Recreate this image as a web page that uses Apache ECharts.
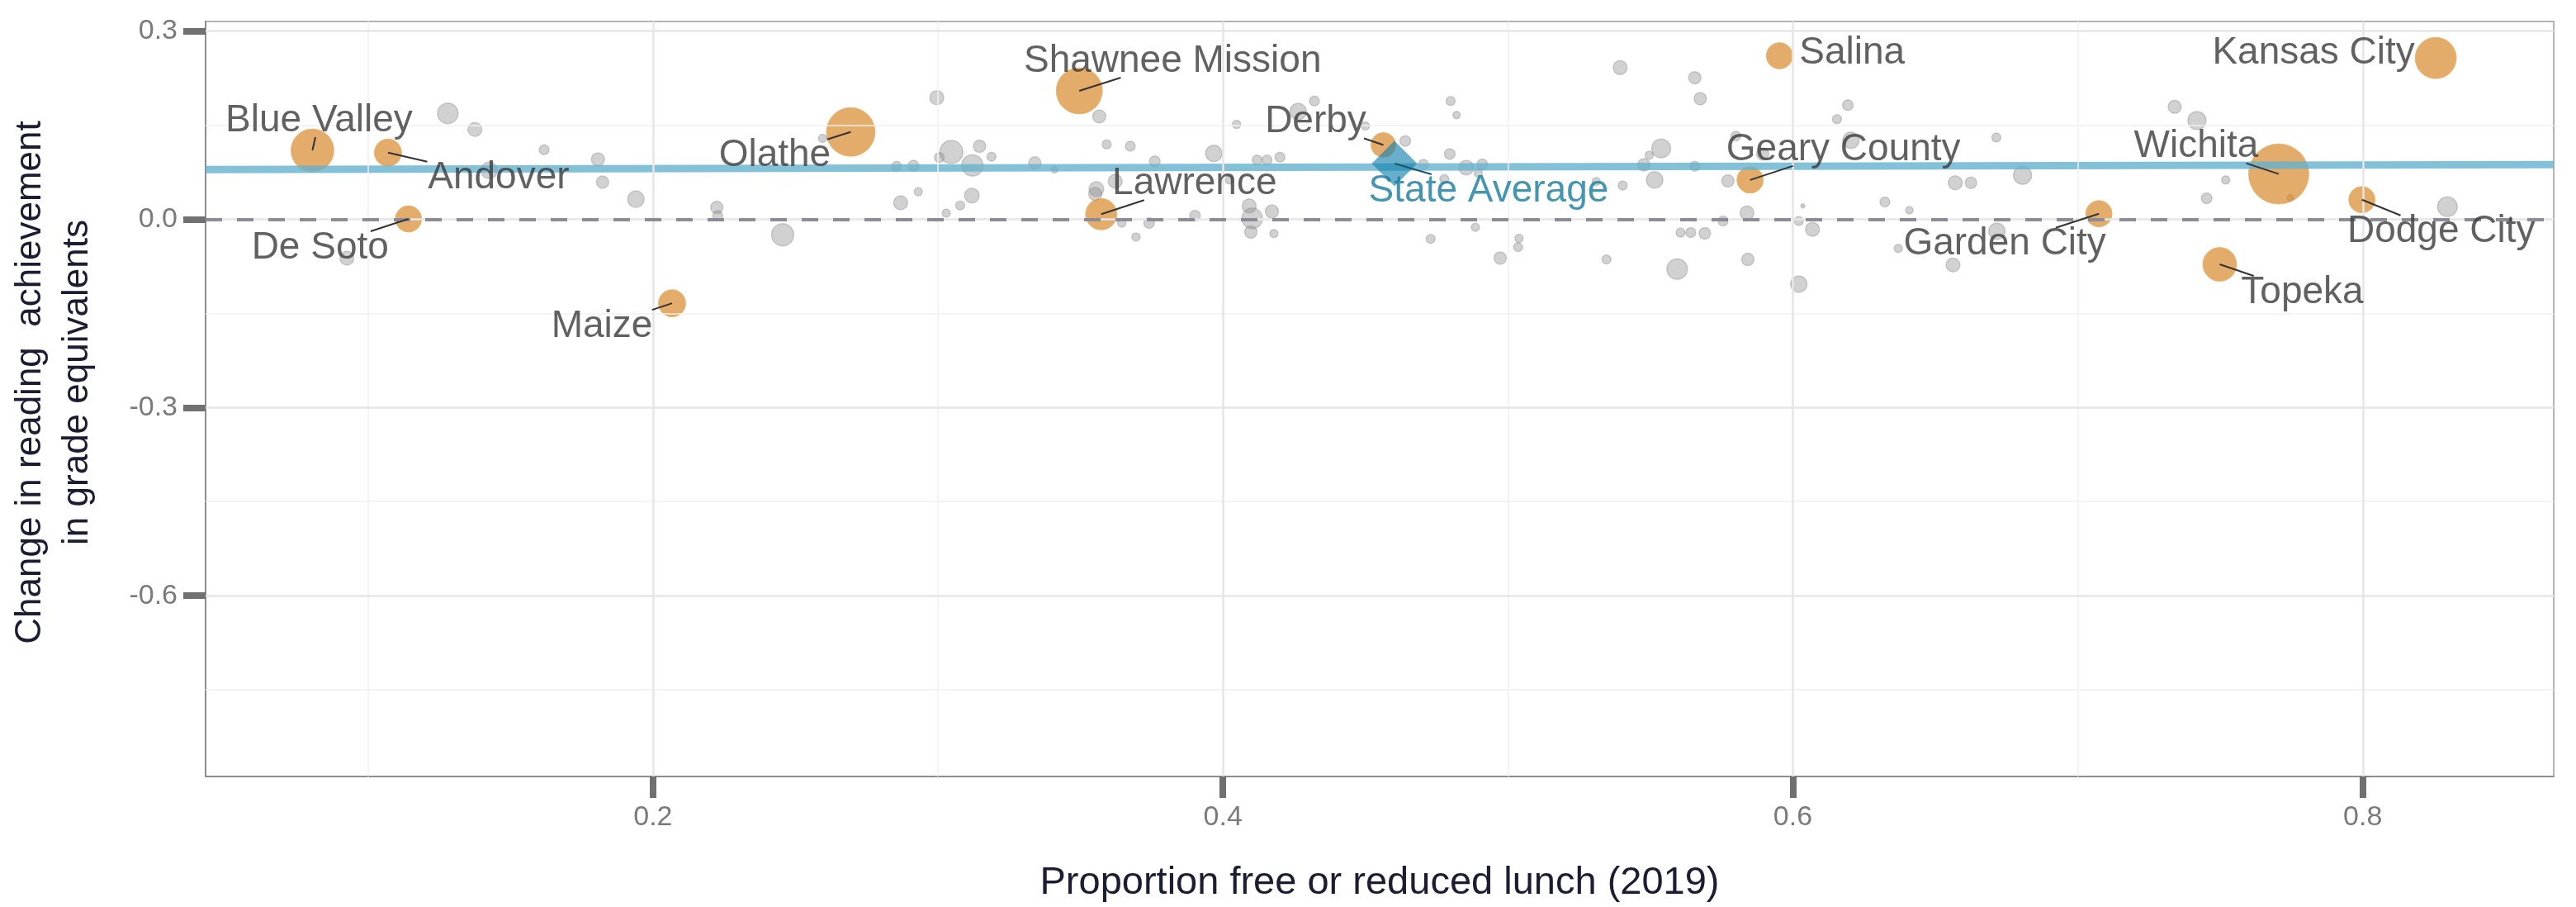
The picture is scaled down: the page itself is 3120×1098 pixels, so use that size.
<!DOCTYPE html>
<html>
<head>
<meta charset="utf-8">
<title>Reading change vs free lunch</title>
<script src="https://cdn.jsdelivr.net/npm/echarts@6/dist/echarts.min.js"></script>
<style>
  html, body { margin: 0; padding: 0; background: #fff; }
  #chart { width: 3120px; height: 1098px; }
</style>
</head>
<body>
<div id="chart"></div>
<script>
// unlabelled districts: proportion FRL, change in GE, bubble size
var gX = [0.128, 0.1375, 0.1618, 0.1807, 0.1823, 0.194, 0.1425, 0.0926, 0.2224, 0.2227, 0.2455, 0.2595,
    0.2996, 0.2855, 0.2914, 0.2869, 0.2931, 0.3005, 0.3047, 0.3146, 0.3188, 0.3121, 0.3119, 0.3078, 0.3029,
    0.334, 0.3409, 0.3566, 0.3592, 0.3675, 0.3761, 0.3556, 0.3552, 0.3622, 0.3645, 0.3741, 0.3695,
    0.4048, 0.3968, 0.412, 0.4155, 0.42, 0.4264, 0.4321, 0.45, 0.464, 0.4799, 0.482, 0.4796, 0.4704, 0.4854,
    0.491, 0.4896, 0.4777, 0.4023, 0.4092, 0.4103, 0.4098, 0.4172, 0.4179, 0.3902, 0.4729, 0.4886, 0.5039,
    0.5036, 0.4973, 0.5346, 0.5394, 0.5496, 0.5538, 0.5477, 0.5515, 0.5403, 0.5594, 0.531,
    0.5656, 0.5675, 0.5656, 0.5772, 0.5606, 0.5642, 0.5691, 0.5755, 0.58, 0.5894, 0.5839, 0.5842, 0.6021,
    0.6021, 0.6035, 0.6069, 0.6193, 0.6155, 0.6204, 0.6323, 0.6409, 0.637, 0.6562, 0.657, 0.6625, 0.6714,
    0.6806, 0.6716, 0.734, 0.7418, 0.7519, 0.7452, 0.7746, 0.8297];
var gY = [0.1686, 0.143, 0.1105, 0.0952, 0.059, 0.0319, 0.0777, -0.062, 0.0187, 0.0057, -0.0249, 0.1288,
    0.1935, 0.0843, 0.0852, 0.0262, 0.0437, 0.0983, 0.107, 0.1162, 0.0996, 0.0856, 0.0376, 0.0219, 0.0096,
    0.0895, 0.0786, 0.1638, 0.1192, 0.1162, 0.0921, 0.048, 0.040, 0.0603, -0.0061, -0.0061, -0.0284,
    0.151, 0.1048, 0.0943, 0.0943, 0.0987, 0.1716, 0.1882, 0.1485, 0.1245, 0.1882, 0.166, 0.1039, 0.0873, 0.0821,
    0.0873, 0.0734, 0.0638, 0.0625, 0.021, 0.0013, -0.0205, 0.0122, -0.023, 0.0057, -0.0314, -0.0131, -0.0306,
    -0.0445, -0.062, -0.0642, 0.2415, 0.1018, 0.1127, 0.0865, 0.0625, 0.0537, -0.0795, 0.06,
    0.2253, 0.192, 0.0843, 0.061, -0.0214, -0.0214, -0.0227, -0.003, 0.1323, 0.1039, 0.01, -0.0642, -0.1035,
    -0.003, 0.021, -0.0162, 0.1817, 0.1594, 0.1258, 0.0275, 0.0144, -0.0467, -0.073, 0.058, 0.058, 0.1301,
    0.0699, -0.0192, 0.179, 0.1572, 0.0625, 0.0332, 0.0336, 0.0197];
var gS = [25, 17, 12, 16, 15, 20, 20, 17, 15, 12, 27, 10,
    17, 12, 13, 17, 10, 12, 28, 15, 11, 26, 18, 11, 10,
    15, 8, 16, 11, 12, 13, 18, 16, 17, 10, 13, 10,
    10, 20, 12, 12, 12, 20, 12, 10, 13, 11, 9, 13, 12, 18,
    13, 10, 11, 10, 17, 25, 15, 16, 10, 13, 11, 10, 10,
    11, 15, 11, 17, 10, 23, 15, 20, 11, 25, 10,
    15, 15, 12, 15, 11, 12, 14, 12, 12, 15, 17, 15, 20,
    11, 5, 17, 13, 11, 20, 12, 9, 10, 17, 17, 14, 11,
    22, 20, 16, 22, 10, 13, 8, 24];

// labelled districts
var lNames = ['Blue Valley', 'Andover', 'De Soto', 'Maize', 'Olathe', 'Shawnee Mission', 'Lawrence', 'Derby',
    'Salina', 'Geary County', 'Garden City', 'Kansas City', 'Wichita', 'Dodge City', 'Topeka'];
var lX = [0.0805, 0.107, 0.1142, 0.2067, 0.2694, 0.3496, 0.3573, 0.4563, 0.5953, 0.585, 0.7074, 0.8256, 0.7705, 0.7997, 0.7498];
var lY = [0.1096, 0.106, 0.0004, -0.134, 0.1389, 0.2044, 0.0079, 0.1183, 0.2603, 0.0625, 0.0087, 0.2568, 0.072, 0.031, -0.072];
var lS = [52, 33, 32, 33, 59, 56, 38, 30, 32, 32, 32, 50, 73, 32, 41];

// state average and fitted line
var stateX = 0.4602;
var stateY = 0.0887;
var trendX = [0.043, 0.867];
var trendY = [0.079, 0.087];

// axes
var xMin = 0.043, xMax = 0.867;
var yMin = -0.888, yMax = 0.315;
var xTicks = [0.2, 0.4, 0.6, 0.8];
var xMinor = [0.1, 0.3, 0.5, 0.7];
var yTicks = [-0.6, -0.3, 0, 0.3];
var yMinor = [-0.75, -0.45, -0.15, 0.15];

// where the repelled labels sit relative to their point (px)
var nudge = {
    'Blue Valley': [8, -36], 'Andover': [134, 31], 'De Soto': [-107, 35], 'Maize': [-85, 28],
    'Olathe': [-92, 29], 'Shawnee Mission': [113, -36], 'Lawrence': [113, -37], 'Derby': [-82, -28],
    'Salina': [88, -3], 'Geary County': [113, -37], 'Garden City': [-114, 37], 'Kansas City': [-148, -6],
    'Wichita': [-100, -33], 'Dodge City': [96, 39], 'Topeka': [100, 34], 'State Average': [114, 33]
};
var noLine = ['Salina', 'Kansas City'];

var FONT = 'Liberation Sans, Arial, sans-serif';
var LABEL_SIZE = 46;

// text widths, so the leader segments stop at the label box like ggrepel
var measure = document.createElement('canvas').getContext('2d');
measure.font = LABEL_SIZE + 'px "Liberation Sans", Arial, sans-serif';
function textWidth(s) { return measure.measureText(s).width; }

var grayData = gX.map(function (x, i) { return [x, gY[i], gS[i]]; });
var orangeData = lX.map(function (x, i) { return { name: lNames[i], value: [x, lY[i], lS[i]] }; });
var labelData = lX.map(function (x, i) { return { name: lNames[i], value: [x, lY[i]] }; });
var segData = lX.map(function (x, i) { return [x, lY[i], i]; });
segData.push([stateX, stateY, -1]);
var trendData = trendX.map(function (x, i) { return [x, trendY[i]]; });

function gridLines(axis, vals, color, width) {
    return vals.map(function (v) {
        var d = { lineStyle: { color: color, width: width, type: 'solid' } };
        d[axis] = v;
        return d;
    });
}

var labelNames = {};
function nudgeLayout(params) {
    var n = nudge[labelNames[params.seriesIndex][params.dataIndex]] || [0, 0];
    return { dx: n[0], dy: n[1] };
}

// segment from the point centre to where it meets the label box
function renderSegment(params, api) {
    var idx = api.value(2);
    var name = idx < 0 ? 'State Average' : lNames[idx];
    if (noLine.indexOf(name) >= 0) return;
    var p = api.coord([api.value(0), api.value(1)]);
    var n = nudge[name];
    var c = [p[0] + n[0], p[1] + n[1]];
    var hw = textWidth(name) / 2 + 4, hh = 20;
    var dx = p[0] - c[0], dy = p[1] - c[1];
    var t = Math.min(dx ? hw / Math.abs(dx) : Infinity, dy ? hh / Math.abs(dy) : Infinity);
    if (t >= 1) return;
    return {
        type: 'line',
        shape: { x1: p[0], y1: p[1], x2: c[0] + dx * t, y2: c[1] + dy * t },
        style: { stroke: idx < 0 ? '#22526a' : '#333333', lineWidth: 2 }
    };
}

var chart = echarts.init(document.getElementById('chart'));

option = {
    animation: false,
    backgroundColor: '#fff',
    grid: {
        left: 247, right: 27, top: 26, bottom: 154,
        show: true, borderColor: '#b3b3b3', borderWidth: 2
    },
    xAxis: {
        type: 'value',
        min: xMin, max: xMax,
        name: 'Proportion free or reduced lunch (2019)',
        nameLocation: 'middle',
        nameGap: 106,
        nameTextStyle: { fontSize: 47, color: '#1c1c33', fontFamily: FONT },
        axisLine: { show: true, onZero: false, lineStyle: { color: '#8c8c8c', width: 2 } },
        axisTick: { show: true, customValues: xTicks, length: 26, lineStyle: { color: '#707070', width: 8 } },
        axisLabel: {
            customValues: xTicks, margin: 33, fontSize: 34, color: '#7a7a7a', fontFamily: FONT,
            formatter: function (v) { return v.toFixed(1); }
        },
        splitLine: { show: false }
    },
    yAxis: {
        type: 'value',
        min: yMin, max: yMax,
        name: 'Change in reading  achievement\nin grade equivalents',
        nameLocation: 'middle',
        nameRotate: 90,
        nameGap: 127,
        nameTextStyle: { fontSize: 44, lineHeight: 57, color: '#1c1c33', fontFamily: FONT, padding: [0, 0, 0, 40] },
        axisLine: { show: true, onZero: false, lineStyle: { color: '#8c8c8c', width: 2 } },
        axisTick: { show: true, customValues: yTicks, length: 27, lineStyle: { color: '#707070', width: 8 } },
        axisLabel: {
            customValues: yTicks, margin: 34, fontSize: 34, color: '#7a7a7a', fontFamily: FONT,
            formatter: function (v) { return v.toFixed(1); }
        },
        splitLine: { show: false }
    },
    series: [
        {
            // panel grid
            type: 'line', data: [], z: 0, silent: true,
            markLine: {
                silent: true, symbol: 'none', animation: false,
                label: { show: false },
                data: gridLines('xAxis', xMinor, '#f1f1f1', 1.5)
                    .concat(gridLines('yAxis', yMinor, '#f1f1f1', 1.5))
                    .concat(gridLines('xAxis', xTicks, '#e6e6e6', 2.5))
                    .concat(gridLines('yAxis', yTicks, '#e6e6e6', 2.5))
            }
        },
        {
            name: 'other',
            type: 'scatter', z: 1,
            data: grayData,
            symbolSize: function (v) { return v[2]; },
            itemStyle: { color: 'rgba(140,140,140,0.5)', borderColor: 'rgba(110,110,110,0.35)', borderWidth: 1.5 }
        },
        {
            name: 'labelled',
            type: 'scatter', z: 2,
            data: orangeData,
            symbolSize: function (v) { return v[2]; },
            itemStyle: { color: 'rgba(214,134,36,0.85)', borderColor: 'rgba(235,175,100,0.9)', borderWidth: 1 }
        },
        {
            // zero reference
            type: 'line', data: [], z: 3, silent: true,
            markLine: {
                silent: true, symbol: 'none', animation: false,
                label: { show: false },
                lineStyle: { color: '#8c8c98', width: 4, type: [20, 18] },
                data: [{ yAxis: 0 }]
            }
        },
        {
            name: 'fit',
            type: 'line', z: 4,
            data: trendData,
            showSymbol: false,
            lineStyle: { color: 'rgba(100,178,208,0.8)', width: 9 }
        },
        {
            name: 'State Average',
            type: 'scatter', z: 5,
            data: [{ name: 'State Average', value: [stateX, stateY] }],
            symbol: 'diamond',
            symbolSize: 55,
            itemStyle: { color: 'rgba(20,130,175,0.8)' }
        },
        {
            // leader segments
            type: 'custom', z: 6, silent: true,
            data: segData,
            renderItem: renderSegment
        },
        {
            type: 'scatter', z: 7,
            data: [{ name: 'State Average', value: [stateX, stateY] }],
            symbolSize: 2,
            itemStyle: { color: 'rgba(0,0,0,0)' },
            label: {
                show: true, position: 'inside', formatter: '{b}',
                fontSize: LABEL_SIZE, color: '#157a9c', fontFamily: FONT
            },
            labelLayout: nudgeLayout
        },
        {
            // text for labelled districts, above the fit line
            name: 'names',
            type: 'scatter', z: 7,
            data: labelData,
            symbolSize: 2,
            itemStyle: { color: 'rgba(0,0,0,0)' },
            label: {
                show: true, position: 'inside', formatter: '{b}',
                fontSize: LABEL_SIZE, color: '#3a3a3a', fontFamily: FONT
            },
            labelLayout: nudgeLayout
        }
    ]
};
labelNames[7] = ['State Average'];
labelNames[8] = lNames;

chart.setOption(option);
</script>
</body>
</html>
